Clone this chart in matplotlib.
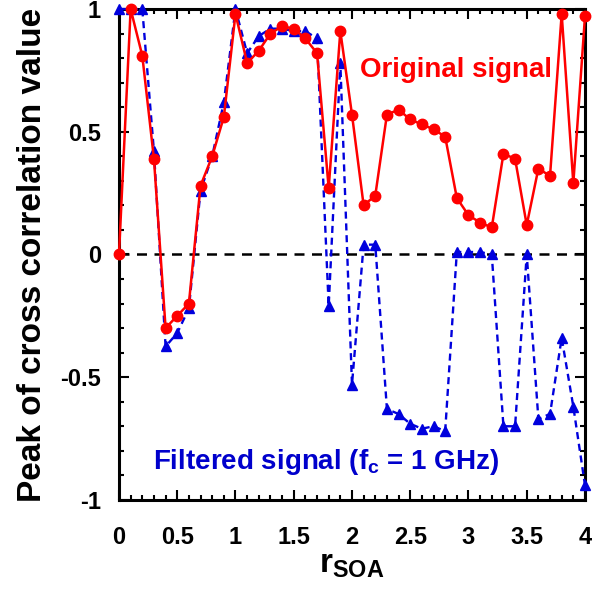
import numpy as np
import matplotlib.pyplot as plt
from matplotlib.ticker import MultipleLocator

plt.rcParams['font.family'] = ['Liberation Sans', 'DejaVu Sans']
plt.rcParams['font.weight'] = 'bold'
plt.rcParams['mathtext.fontset'] = 'custom'
plt.rcParams['mathtext.bf'] = 'Liberation Sans:bold'
plt.rcParams['mathtext.rm'] = 'Liberation Sans:bold'

# --- data ---
r_soa = np.round(np.arange(0, 4.01, 0.1), 1)
original = [0.00, 1.00, 0.81, 0.39, -0.30, -0.25, -0.20, 0.28, 0.40, 0.56,
            0.98, 0.78, 0.83, 0.90, 0.93, 0.92, 0.88, 0.82, 0.27, 0.91,
            0.57, 0.20, 0.24, 0.57, 0.59, 0.55, 0.53, 0.51, 0.48, 0.23,
            0.16, 0.13, 0.11, 0.41, 0.39, 0.12, 0.35, 0.32, 0.98, 0.29,
            0.97]
filtered = [1.00, 1.00, 1.00, 0.42, -0.375, -0.32, -0.22, 0.26, 0.40, 0.62,
            1.00, 0.82, 0.89, 0.92, 0.92, 0.91, 0.91, 0.88, -0.21, 0.78,
            -0.53, 0.04, 0.04, -0.63, -0.65, -0.69, -0.71, -0.70, -0.72, 0.01,
            0.01, 0.01, 0.00, -0.70, -0.70, 0.00, -0.67, -0.65, -0.34, -0.62,
            -0.94]

fig = plt.figure(figsize=(6.04, 6.03), dpi=100)
ax = fig.add_axes([0.197, 0.171, 0.7715, 0.814])

ax.axhline(0, color='black', linewidth=1.8, linestyle=(0, (4, 3)), zorder=1)

ax.plot(r_soa, filtered, color='#0000dd', linewidth=1.7, linestyle=(0, (3, 2)),
        marker='^', markersize=7.5, clip_on=False, zorder=3)
ax.plot(r_soa, original, color='#ff0000', linewidth=1.8,
        marker='o', markersize=7.5, clip_on=False, zorder=4)

ax.text(0.518, 0.862, 'Original signal', transform=ax.transAxes,
        color='#ff0000', fontsize=20, fontweight='bold')
ax.text(0.073, 0.062, 'Filtered signal (f$_\\mathbf{c}$ = 1 GHz)', transform=ax.transAxes,
        color='#0000cc', fontsize=20, fontweight='bold')

ax.set_xlim(0, 4)
ax.set_ylim(-1, 1)
ax.xaxis.set_major_locator(MultipleLocator(0.5))
ax.xaxis.set_minor_locator(MultipleLocator(0.1))
ax.yaxis.set_major_locator(MultipleLocator(0.5))
ax.yaxis.set_minor_locator(MultipleLocator(0.1))
ax.xaxis.set_major_formatter(plt.FuncFormatter(lambda v, p: f'{v:g}'))
ax.yaxis.set_major_formatter(plt.FuncFormatter(lambda v, p: f'{v:g}'))

ax.tick_params(which='both', direction='in', top=True, right=True, width=1.5,
               labelsize=17)
ax.tick_params(which='major', length=7)
ax.tick_params(which='minor', length=3.6)
ax.tick_params(axis='x', which='major', pad=19)
ax.tick_params(axis='y', which='major', pad=13)
for s in ax.spines.values():
    s.set_linewidth(2.2)

ax.set_xlabel('r$_\\mathbf{SOA}$', fontsize=24, fontweight='bold', labelpad=0)
ax.set_ylabel('Peak of cross correlation value', fontsize=24, fontweight='bold',
              labelpad=9)

fig.savefig('out.png', dpi=100)
